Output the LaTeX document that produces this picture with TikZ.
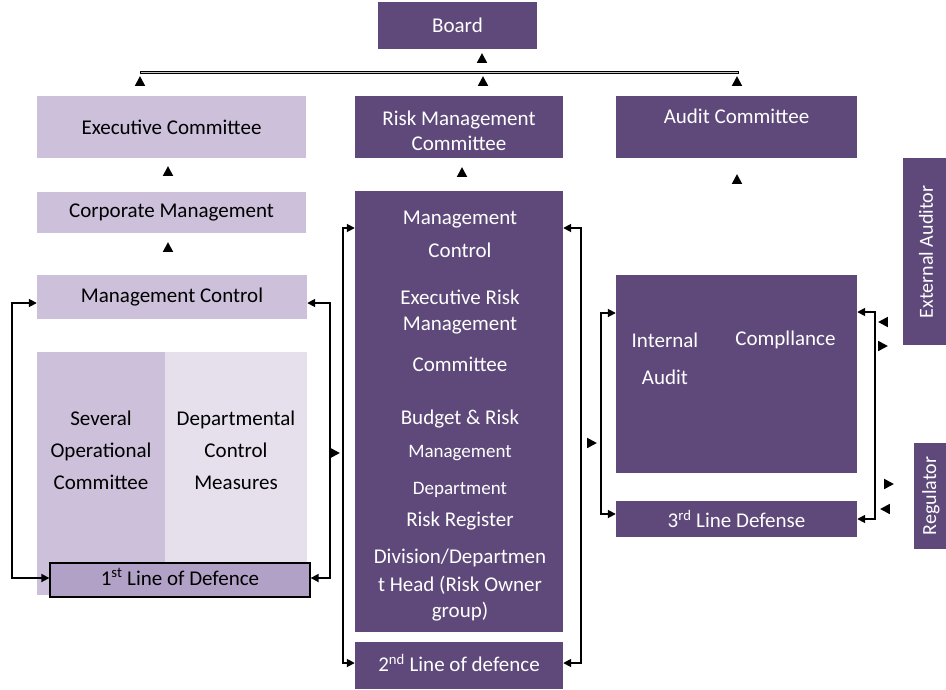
\documentclass[tikz,border=0pt]{standalone}
\usepackage{fontspec}
\setmainfont{Carlito}
\usetikzlibrary{arrows.meta}
\definecolor{darkp}{RGB}{95,73,122}
\definecolor{lightA}{RGB}{204,192,218}
\definecolor{lightB}{RGB}{229,224,236}
\definecolor{firstc}{RGB}{178,161,199}
\begin{document}
\begin{tikzpicture}[x=1pt,y=-1pt,
  darkbox/.style={fill=darkp, draw=none, inner sep=0pt, text=white, font=\fontsize{21}{25}\selectfont, align=center},
  lightbox/.style={fill=lightA, draw=none, inner sep=0pt, text=black, font=\fontsize{21}{25}\selectfont, align=center},
  txt/.style={font=\fontsize{21}{25}\selectfont, inner sep=0pt, align=center},
  wtxt/.style={txt, text=white},
  stxt/.style={font=\fontsize{19}{23}\selectfont, inner sep=0pt, align=center, text=white},
  conn/.style={line width=1.7pt, {Triangle[length=8pt,width=8pt]}-{Triangle[length=8pt,width=8pt]}},
  tipmark/.pic={\fill (-5.2,4.8) -- (5.2,4.8) -- (0,-4.8) -- cycle;}
]
\useasboundingbox (0,0) rectangle (946,689);

% top level
\node[darkbox, minimum width=159pt, minimum height=47pt] (board) at (457.5,25.5) {Board};
\pic at (482,58) {tipmark};
\draw[line width=3pt] (140,72) -- (739,72);
\draw[line width=0.8pt, gray!45] (141,72) -- (738,72);
\pic at (140,81) {tipmark};
\pic at (483,81) {tipmark};
\pic at (737,81) {tipmark};

% committees
\node[lightbox, minimum width=269pt, minimum height=62pt] (exec) at (171.5,127) {Executive Committee};
\node[darkbox, minimum width=208pt, minimum height=62pt] (rmc) at (459,127) {};
\node[wtxt] (rmct) at (459,130.5) {Risk Management\\Committee};
\node[darkbox, minimum width=241pt, minimum height=62pt] (audit) at (736.5,127) {};
\node[wtxt] (auditt) at (736.5,116) {Audit Committee};
\pic at (168,171) {tipmark};
\pic at (462,172) {tipmark};
\pic at (737,179) {tipmark};

% left column
\node[lightbox, minimum width=269pt, minimum height=41pt] (corp) at (171.5,212.5) {Corporate Management};
\pic at (168,247) {tipmark};
\node[lightbox, minimum width=270pt, minimum height=44pt] (mctrl) at (172,297) {Management Control};
\node[lightbox, minimum width=128pt, minimum height=243pt] (opc) at (101,473.5) {};
\node[fill=lightB, inner sep=0pt, minimum width=142pt, minimum height=243pt] (dcm) at (236,473.5) {};
\node[txt, font=\fontsize{21}{32}\selectfont] (opct) at (101,450) {Several\\Operational\\Committee};
\node[txt, font=\fontsize{21}{32}\selectfont] (dcmt) at (236,450) {Departmental\\Control\\Measures};
\node[fill=firstc, draw=black, line width=1.3pt, inner sep=0pt, minimum width=260pt, minimum height=34pt] (first) at (180,580) {};
\node[txt] (firstt) at (180,577) {1\textsuperscript{st} Line of Defence};

% center column
\node[darkbox, minimum width=208pt, minimum height=441pt] (center) at (459,411.5) {};
\node[wtxt] (c1) at (460,220) {Management};
\node[wtxt] (c2) at (460,250) {Control};
\node[wtxt] (c3) at (460,297) {Executive Risk};
\node[wtxt] (c4) at (460,326) {Management};
\node[wtxt] (c5) at (460,364) {Committee};
\node[wtxt] (c6) at (460,419) {Budget \& Risk};
\node[stxt] (c7) at (460,453) {Management};
\node[stxt] (c8) at (460,490) {Department};
\node[wtxt] (c9) at (460,521) {Risk Register};
\node[wtxt] (c10) at (460,558) {Division/Departmen};
\node[wtxt] (c11) at (460,585) {t Head (Risk Owner};
\node[wtxt] (c12) at (460,612) {group)};
\node[darkbox, minimum width=208pt, minimum height=47pt] (second) at (459,665.5) {};
\node[wtxt] (secondt) at (459,663) {2\textsuperscript{nd} Line of defence};

% right column
\node[darkbox, minimum width=241pt, minimum height=198pt] (rbox) at (736.5,374) {};
\node[wtxt] (ia1) at (665,340) {Internal};
\node[wtxt] (ia2) at (665,377) {Audit};
\node[wtxt] (comp) at (785.5,340) {Compllance};
\node[darkbox, minimum width=241pt, minimum height=36pt] (third) at (736.5,519) {3\textsuperscript{rd} Line Defense};

% external
\node[darkbox, minimum width=43pt, minimum height=187pt] (ext) at (924.5,251.5) {};
\node[wtxt, rotate=90, font=\fontsize{20}{24}\selectfont] (extt) at (926,252) {External Auditor};
\node[darkbox, minimum width=32pt, minimum height=106pt] (reg) at (930,496) {};
\node[wtxt, rotate=90, font=\fontsize{20}{24}\selectfont] (regt) at (931,496) {Regulator};

% connectors
\draw[conn] (mctrl.west |- 0,303) -| (12,440) |- (first.west |- 0,578);
\draw[conn] (mctrl.east |- 0,303) -| (330,440) |- (first.east |- 0,578);
\draw[conn] (center.west |- 0,228) -| (343,440) |- (second.west |- 0,663);
\draw[conn] (center.east |- 0,228) -| (581,440) |- (second.east |- 0,663);
\draw[conn] (rbox.west |- 0,313) -| (601,400) |- (third.west |- 0,514);
\draw[conn] (rbox.east |- 0,312) -| (875,400) |- (third.east |- 0,519);

% loose arrowheads
\pic[rotate=-90] at (335,453) {tipmark};
\pic[rotate=-90] at (592,443) {tipmark};
\pic[rotate=90] at (883,322) {tipmark};
\pic[rotate=-90] at (883,346) {tipmark};
\pic[rotate=-90] at (889,484) {tipmark};
\pic[rotate=90] at (885,509) {tipmark};
\end{tikzpicture}
\end{document}
